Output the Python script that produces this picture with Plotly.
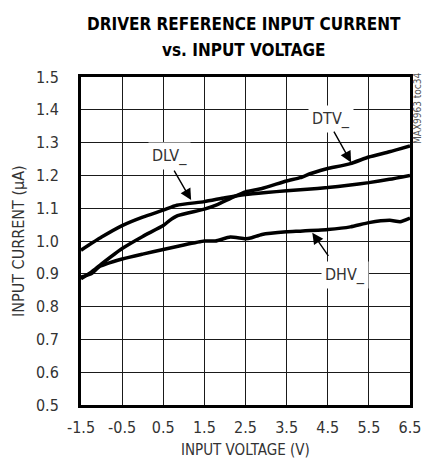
import plotly.graph_objects as go

# Input voltage sweep (V) and measured reference input current (uA)
dlv_v = [-1.5, -1.0, -0.5, 0.0, 0.5, 0.83, 1.5, 2.0, 2.5, 3.0, 3.5, 4.0, 4.5, 5.0, 5.5, 6.0, 6.5]
dlv_i = [0.972, 1.012, 1.047, 1.073, 1.094, 1.109, 1.120, 1.132, 1.142, 1.148, 1.153, 1.158, 1.163, 1.170, 1.178, 1.188, 1.200]

dtv_v = [-1.5, -1.25, -1.0, -0.5, 0.0, 0.5, 0.65, 0.85, 1.5, 1.8, 2.2, 2.5, 2.9, 3.5, 3.83, 4.07, 4.32, 4.5, 5.05, 5.5, 6.0, 6.5]
dtv_i = [0.885, 0.905, 0.930, 0.977, 1.014, 1.047, 1.062, 1.077, 1.097, 1.110, 1.134, 1.150, 1.160, 1.183, 1.193, 1.205, 1.215, 1.221, 1.236, 1.256, 1.272, 1.290]

dhv_v = [-1.5, -1.25, -1.05, -0.5, 0.0, 0.5, 1.0, 1.5, 1.77, 2.13, 2.5, 2.65, 2.9, 3.5, 3.83, 4.5, 5.05, 5.5, 6.01, 6.26, 6.5]
dhv_i = [0.890, 0.900, 0.922, 0.945, 0.960, 0.974, 0.988, 1.000, 1.000, 1.012, 1.007, 1.010, 1.020, 1.028, 1.030, 1.035, 1.043, 1.056, 1.063, 1.059, 1.070]

x_ticks = [-1.5, -0.5, 0.5, 1.5, 2.5, 3.5, 4.5, 5.5, 6.5]
x_labels = ["-1.5", "-0.5", "0.5", "1.5", "2.5", "3.5", "4.5", "5.5", "6.5"]
y_ticks = [0.5, 0.6, 0.7, 0.8, 0.9, 1.0, 1.1, 1.2, 1.3, 1.4, 1.5]
y_labels = ["0.5", "0.6", "0.7", "0.8", "0.9", "1.0", "1.1", "1.2", "1.3", "1.4", "1.5"]

FONT = "DejaVu Sans Condensed, Liberation Sans, Arial, sans-serif"
TXT = "#333333"

W, H = 422, 461
ML, MR, MT, MB = 81, 12, 77, 56
PW, PH = W - ML - MR, H - MT - MB


def px(x):
    return (x - ML) / PW


def py(y):
    return (H - MB - y) / PH


fig = go.Figure()
for xs, ys in [(dlv_v, dlv_i), (dtv_v, dtv_i), (dhv_v, dhv_i)]:
    fig.add_trace(go.Scatter(x=xs, y=ys, mode="lines",
                             line=dict(color="black", width=3.5, shape="spline", smoothing=0.5),
                             showlegend=False, hoverinfo="skip"))

# Curve labels: text boxes with white background, plus separate arrows
labels = [
    ("DLV_", 0.664, 1.259, 0.744, 1.219, 1.19, 1.122),
    ("DTV_", 4.57, 1.372, 4.63, 1.338, 5.08, 1.237),
    ("DHV_", 4.92, 0.896, 4.54, 0.950, 4.11, 1.028),
]
for name, tx, ty, ax0, ay0, hx, hy in labels:
    fig.add_annotation(x=tx, y=ty, text=name, showarrow=False, bgcolor="white",
                       font=dict(family=FONT, size=16, color=TXT), borderpad=3)
    fig.add_annotation(x=hx, y=hy, ax=ax0, ay=ay0, axref="x", ayref="y", text="",
                       showarrow=True, arrowhead=2, arrowsize=1.6, arrowwidth=1.4,
                       arrowcolor="black", standoff=1)

# Title lines
fig.add_annotation(x=px(244), y=py(24), xref="paper", yref="paper",
                   text="<b>DRIVER REFERENCE INPUT CURRENT</b>", showarrow=False,
                   xanchor="center", yanchor="middle",
                   font=dict(family=FONT, size=17, color="black"))
fig.add_annotation(x=px(244), y=py(50), xref="paper", yref="paper",
                   text="<b>vs. INPUT VOLTAGE</b>", showarrow=False,
                   xanchor="center", yanchor="middle",
                   font=dict(family=FONT, size=17, color="black"))

# Axis titles
fig.add_annotation(x=px(245), y=py(450), xref="paper", yref="paper",
                   text="INPUT VOLTAGE (V)", showarrow=False,
                   xanchor="center", yanchor="middle",
                   font=dict(family=FONT, size=15, color=TXT))
fig.add_annotation(x=px(18), y=py(241), xref="paper", yref="paper",
                   text="INPUT CURRENT (µA)", showarrow=False, textangle=-90,
                   xanchor="center", yanchor="middle",
                   font=dict(family=FONT, size=16, color=TXT))

# Figure reference tag along the right edge
fig.add_annotation(x=px(417), y=py(108), xref="paper", yref="paper",
                   text="MAX9963 toc34", showarrow=False, textangle=-90,
                   xanchor="center", yanchor="middle",
                   font=dict(family=FONT, size=10, color="#555555"))

fig.update_layout(
    width=W, height=H,
    margin=dict(l=ML, r=MR, t=MT, b=MB, autoexpand=False),
    paper_bgcolor="white", plot_bgcolor="white",
    font=dict(family=FONT, size=16, color=TXT),
)

fig.update_xaxes(range=[-1.5, 6.5], tickvals=x_ticks, ticktext=x_labels,
                 showgrid=True, gridcolor="#1a1a1a", gridwidth=1.2,
                 showline=True, linecolor="black", linewidth=3, mirror=True,
                 zeroline=False, ticks="", ticklabelstandoff=6, automargin=False,
                 tickfont=dict(family=FONT, size=16, color=TXT))
fig.update_yaxes(range=[0.5, 1.5], tickvals=y_ticks, ticktext=y_labels,
                 showgrid=True, gridcolor="#1a1a1a", gridwidth=1.2,
                 showline=True, linecolor="black", linewidth=3, mirror=True,
                 zeroline=False, ticks="", ticklabelstandoff=16, automargin=False,
                 tickfont=dict(family=FONT, size=16, color=TXT))

fig.write_html("out.html")
